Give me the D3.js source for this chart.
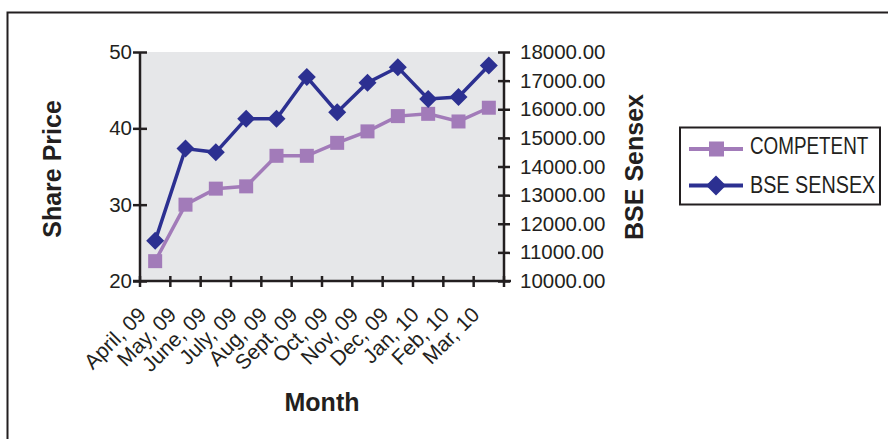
<!DOCTYPE html>
<html><head><meta charset="utf-8">
<script src="https://cdn.jsdelivr.net/npm/d3@7"></script>
<style>html,body{margin:0;padding:0;background:#fff;}svg{display:block;font-family:"Liberation Sans",Arial,sans-serif;}</style>
</head><body>
<svg id="c" width="888" height="439"></svg>
<script>
const months = ["April, 09","May, 09","June, 09","July, 09","Aug, 09","Sept, 09","Oct, 09","Nov, 09","Dec, 09","Jan, 10","Feb, 10","Mar, 10"];
const competent = [22.6, 30.0, 32.1, 32.4, 36.4, 36.4, 38.1, 39.6, 41.6, 41.9, 40.9, 42.7];
const sensex = [11403, 14625, 14494, 15670, 15667, 17127, 15896, 16926, 17465, 16358, 16430, 17528];
const leftTicks = [20, 30, 40, 50];
const rightTicks = [10000, 11000, 12000, 13000, 14000, 15000, 16000, 17000, 18000];
const seriesNames = ["COMPETENT", "BSE SENSEX"];

const svg = d3.select("#c");
const dark = "#231f20", purple = "#a27bb9", navy = "#2c3091";
const L = 140, R = 504, T = 52, B = 281;

// outer frame
svg.append("rect").attr("x", 7.5).attr("y", 12.5).attr("width", 920).attr("height", 500)
  .attr("fill", "none").attr("stroke", dark).attr("stroke-width", 2);

const x = d3.scaleBand().domain(months).range([L, R]);
const yL = d3.scaleLinear().domain([20, 50]).range([B, T]);
const yR = d3.scaleLinear().domain([10000, 18000]).range([B, T]);

svg.append("rect").attr("x", L).attr("y", T).attr("width", R - L).attr("height", B - T).attr("fill", "#e6e7e9");

// left axis
const gl = svg.append("g").attr("transform", `translate(${L},0)`)
  .call(d3.axisLeft(yL).tickValues(leftTicks).tickFormat(d3.format("d")).tickSize(7).tickPadding(2));
gl.select(".domain").remove();
gl.selectAll("line").attr("x1", 7).attr("x2", -7).attr("stroke", dark).attr("stroke-width", 2.5);
gl.selectAll("text").attr("font-size", 20.5).attr("fill", dark).attr("x", -8);
gl.append("line").attr("y1", T).attr("y2", B).attr("stroke", dark).attr("stroke-width", 2.5);

// right axis
const gr = svg.append("g").attr("transform", `translate(${R},0)`)
  .call(d3.axisRight(yR).tickValues(rightTicks).tickFormat(d3.format(".2f")).tickSize(6));
gr.select(".domain").remove();
gr.selectAll("line").attr("x1", -6).attr("x2", 6).attr("stroke", dark).attr("stroke-width", 2.5);
gr.selectAll("text").attr("font-size", 20.5).attr("fill", dark).attr("x", 16);
gr.append("line").attr("y1", T).attr("y2", B).attr("stroke", dark).attr("stroke-width", 2.5);

// bottom axis
const gb = svg.append("g");
gb.append("line").attr("x1", L - 7).attr("x2", R + 7).attr("y1", B).attr("y2", B).attr("stroke", dark).attr("stroke-width", 2.5);
const edges = months.map(m => x(m)).concat([x.range()[1]]);
gb.selectAll("line.t").data(edges).join("line").attr("class", "t")
  .attr("x1", d => d).attr("x2", d => d).attr("y1", B - 5).attr("y2", B + 6)
  .attr("stroke", dark).attr("stroke-width", 2.5);
gb.selectAll("text").data(months).join("text")
  .attr("transform", d => `translate(${x(d) + x.bandwidth() / 2 - 8},${B + 35}) rotate(-45)`)
  .attr("text-anchor", "end").attr("font-size", 21).attr("fill", dark).text(d => d);

// lines
const lineL = d3.line().x((d, i) => x(months[i]) + x.bandwidth() / 2).y(d => yL(d));
const lineR = d3.line().x((d, i) => x(months[i]) + x.bandwidth() / 2).y(d => yR(d));
svg.append("path").datum(competent).attr("d", lineL).attr("fill", "none").attr("stroke", purple).attr("stroke-width", 3.5);
svg.append("path").datum(sensex).attr("d", lineR).attr("fill", "none").attr("stroke", navy).attr("stroke-width", 3.5);
svg.selectAll("rect.sq").data(competent).join("rect").attr("class", "sq")
  .attr("x", (d, i) => x(months[i]) + x.bandwidth() / 2 - 7).attr("y", d => yL(d) - 7)
  .attr("width", 14).attr("height", 14).attr("fill", purple);
const diamond = "M0,-9L9,0L0,9L-9,0Z";
svg.selectAll("path.dm").data(sensex).join("path").attr("class", "dm")
  .attr("transform", (d, i) => `translate(${x(months[i]) + x.bandwidth() / 2},${yR(d)})`)
  .attr("d", diamond).attr("fill", navy);

// axis titles
svg.append("text").attr("transform", `translate(61,169) rotate(-90)`).attr("text-anchor", "middle")
  .attr("font-size", 25).attr("font-weight", "bold").attr("fill", dark).text("Share Price");
svg.append("text").attr("transform", `translate(643,167) rotate(-90)`).attr("text-anchor", "middle")
  .attr("font-size", 25).attr("font-weight", "bold").attr("fill", dark).text("BSE Sensex");
svg.append("text").attr("x", 322).attr("y", 411).attr("text-anchor", "middle")
  .attr("font-size", 25).attr("font-weight", "bold").attr("fill", dark).text("Month");

// legend
const lg = svg.append("g");
lg.append("rect").attr("x", 680).attr("y", 127.5).attr("width", 200).attr("height", 77)
  .attr("fill", "#fff").attr("stroke", dark).attr("stroke-width", 2);
const rows = [{name: seriesNames[0], color: purple, y: 149, ty: 153.5, sx: 0.82, shape: "sq"},
              {name: seriesNames[1], color: navy, y: 185.5, ty: 192.5, sx: 0.86, shape: "dm"}];
rows.forEach(r => {
  lg.append("line").attr("x1", 689).attr("x2", 743).attr("y1", r.y).attr("y2", r.y).attr("stroke", r.color).attr("stroke-width", 4);
  if (r.shape === "sq") lg.append("rect").attr("x", 709).attr("y", r.y - 7.5).attr("width", 15).attr("height", 15).attr("fill", r.color);
  else lg.append("path").attr("transform", `translate(716,${r.y})`).attr("d", "M0,-10L10,0L0,10L-10,0Z").attr("fill", r.color);
  lg.append("text").attr("transform", `translate(750,${r.ty}) scale(${r.sx},1)`).attr("font-size", 23).attr("fill", dark)
    .text(r.name);
});
</script>
</body></html>
